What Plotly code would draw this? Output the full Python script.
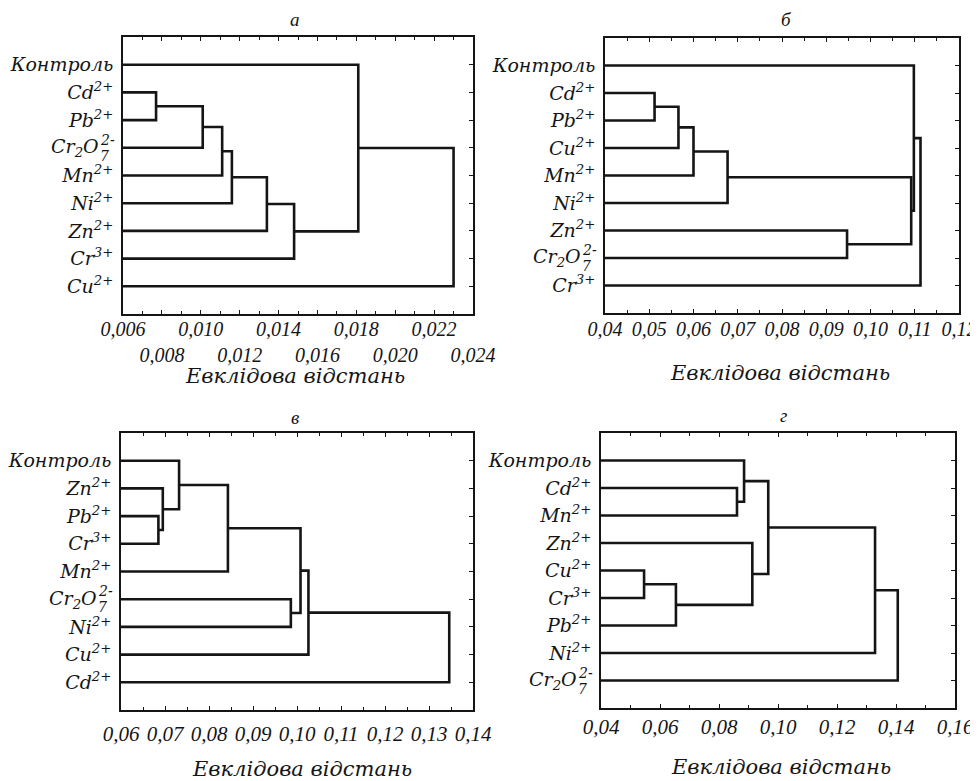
import plotly.graph_objects as go

# page geometry: the browser body adds an 8px margin, so the figure is 8px smaller
PAGE_W, PAGE_H = 978, 781
OFF = 8
W, H = PAGE_W - OFF, PAGE_H - OFF

# ---------------- data ----------------
panel_titles = ["а", "б", "в", "г"]
axis_title = "Евклідова відстань"

leaves_a = ["Контроль", "Cd2+", "Pb2+", "Cr2O7", "Mn2+", "Ni2+", "Zn2+", "Cr3+", "Cu2+"]
merges_a = [(1, 2, 0.0077), (9, 3, 0.0101), (10, 4, 0.0111), (11, 5, 0.0116),
            (12, 6, 0.0134), (13, 7, 0.0148), (0, 14, 0.0181), (15, 8, 0.0230)]

leaves_b = ["Контроль", "Cd2+", "Pb2+", "Cu2+", "Mn2+", "Ni2+", "Zn2+", "Cr2O7", "Cr3+"]
merges_b = [(1, 2, 0.0512), (9, 3, 0.0566), (10, 4, 0.0600), (11, 5, 0.0677),
            (6, 7, 0.0947), (12, 13, 0.1092), (0, 14, 0.1098), (15, 8, 0.1113)]

leaves_c = ["Контроль", "Zn2+", "Pb2+", "Cr3+", "Mn2+", "Cr2O7", "Ni2+", "Cu2+", "Cd2+"]
merges_c = [(2, 3, 0.0685), (1, 9, 0.0695), (0, 10, 0.0732), (11, 4, 0.0843),
            (5, 6, 0.0986), (12, 13, 0.1008), (14, 7, 0.1026), (15, 8, 0.1346)]

leaves_d = ["Контроль", "Cd2+", "Mn2+", "Zn2+", "Cu2+", "Cr3+", "Pb2+", "Ni2+", "Cr2O7"]
merges_d = [(1, 2, 0.0861), (0, 9, 0.0885), (4, 5, 0.0546), (11, 6, 0.0654),
            (3, 12, 0.0913), (10, 13, 0.0967), (14, 7, 0.1329), (15, 8, 0.1406)]

ticks_a = [0.006, 0.008, 0.010, 0.012, 0.014, 0.016, 0.018, 0.020, 0.022, 0.024]
ticklabels_a = ["0,006", "0,008", "0,010", "0,012", "0,014", "0,016", "0,018", "0,020", "0,022", "0,024"]
ticks_b = [0.04, 0.05, 0.06, 0.07, 0.08, 0.09, 0.10, 0.11, 0.12]
ticklabels_b = ["0,04", "0,05", "0,06", "0,07", "0,08", "0,09", "0,10", "0,11", "0,12"]
ticks_c = [0.06, 0.07, 0.08, 0.09, 0.10, 0.11, 0.12, 0.13, 0.14]
ticklabels_c = ["0,06", "0,07", "0,08", "0,09", "0,10", "0,11", "0,12", "0,13", "0,14"]
ticks_d = [0.04, 0.06, 0.08, 0.10, 0.12, 0.14, 0.16]
ticklabels_d = ["0,04", "0,06", "0,08", "0,10", "0,12", "0,14", "0,16"]

label_html = {
    "Контроль": "Контроль",
    "Cd2+": "Cd<sup>2+</sup>",
    "Pb2+": "Pb<sup>2+</sup>",
    "Cu2+": "Cu<sup>2+</sup>",
    "Mn2+": "Mn<sup>2+</sup>",
    "Ni2+": "Ni<sup>2+</sup>",
    "Zn2+": "Zn<sup>2+</sup>",
    "Cr3+": "Cr<sup>3+</sup>",
    "Cr2O7": "",   # drawn as stacked annotation
}

# ---------------- layout geometry (page pixels) ----------------
boxes = [(123, 473, 37, 314), (605, 959, 38, 313), (121, 473, 433, 710), (601, 955, 433, 708)]
ranges = [(0.006, 0.024), (0.04, 0.12), (0.06, 0.14), (0.04, 0.16)]
minor_dt = [0.001, 0.005, 0.005, 0.01]
title_pos = [(295, 20), (786, 20), (295, 418), (783, 415)]
xtitle_pos = [(295, 376), (780, 373), (302, 769), (781, 767)]
tick_standoff = [-4, -3, 4, -1]
tick_size = [20, 20, 21, 21]


def px(x):
    return (x - OFF) / W


def py(y):
    return 1 - (y - OFF) / H


panels = [
    (leaves_a, merges_a, ticks_a, ticklabels_a),
    (leaves_b, merges_b, ticks_b, ticklabels_b),
    (leaves_c, merges_c, ticks_c, ticklabels_c),
    (leaves_d, merges_d, ticks_d, ticklabels_d),
]

INK = "#151515"
SERIF = "DejaVu Serif"
TSERIF = "Liberation Serif"


def dendro_xy(n, merges):
    pos = {i: i + 1 for i in range(n)}
    hgt = {i: 0.0 for i in range(n)}
    xs, ys = [], []
    for k, (a, b, h) in enumerate(merges):
        xs += [hgt[a], h, h, hgt[b], None]
        ys += [pos[a], pos[a], pos[b], pos[b], None]
        pos[n + k] = (pos[a] + pos[b]) / 2
        hgt[n + k] = h
    return xs, ys


fig = go.Figure()
annotations = []
layout = {}

for i, (leaves, merges, tv, tt) in enumerate(panels):
    n = i + 1
    sx = "" if n == 1 else str(n)
    x0, x1, y0, y1 = boxes[i]
    xs, ys = dendro_xy(len(leaves), merges)
    fig.add_trace(go.Scatter(x=xs, y=ys, mode="lines", xaxis="x" + sx, yaxis="y" + sx,
                             line=dict(color=INK, width=2.6), hoverinfo="skip",
                             showlegend=False))
    if i == 0:
        tt = [t if j % 2 == 0 else "<br>" + t for j, t in enumerate(tt)]
    layout["xaxis" + sx] = dict(
        domain=[px(x0), px(x1)], anchor="y" + sx, range=list(ranges[i]), automargin=False,
        tickvals=tv, ticktext=tt, tickangle=0,
        ticks="inside", ticklen=4, tickwidth=1, tickcolor=INK,
        minor=dict(ticks="inside", ticklen=3, dtick=minor_dt[i], tick0=ranges[i][0], tickcolor=INK),
        showline=True, linecolor=INK, linewidth=1.5, mirror="ticks",
        showgrid=False, zeroline=False,
        tickfont=dict(family=TSERIF, size=tick_size[i], color=INK, style="italic"),
        ticklabelstandoff=tick_standoff[i],
    )
    layout["yaxis" + sx] = dict(
        domain=[py(y1), py(y0)], anchor="x" + sx, range=[10, 0], automargin=False,
        tickvals=list(range(1, len(leaves) + 1)),
        ticktext=[label_html[l] for l in leaves],
        ticks="inside", ticklen=4, tickwidth=1, tickcolor=INK,
        showline=True, linecolor=INK, linewidth=1.5, mirror="ticks",
        showgrid=False, zeroline=False,
        tickfont=dict(family=SERIF, size=19, color=INK, style="italic"),
        ticklabelstandoff=4,
    )
    # stacked Cr2O7^2- label
    yi = leaves.index("Cr2O7") + 1
    annotations.append(dict(text="Cr<sub>2</sub>O", xref=("x" + sx) + " domain", yref="y" + sx,
                            x=0, y=yi, xanchor="right", yanchor="middle", xshift=-22, showarrow=False,
                            font=dict(family=SERIF, size=19, color=INK, style="italic")))
    annotations.append(dict(text="2-", xref=("x" + sx) + " domain", yref="y" + sx,
                            x=0, y=yi, xanchor="left", yanchor="middle", xshift=-25, yshift=8,
                            showarrow=False,
                            font=dict(family=SERIF, size=14, color=INK, style="italic")))
    annotations.append(dict(text="7", xref=("x" + sx) + " domain", yref="y" + sx,
                            x=0, y=yi, xanchor="left", yanchor="middle", xshift=-25, yshift=-8,
                            showarrow=False,
                            font=dict(family=SERIF, size=14, color=INK, style="italic")))
    # panel title
    tx, ty = title_pos[i]
    annotations.append(dict(text=panel_titles[i], xref="paper", yref="paper", x=px(tx), y=py(ty),
                            xanchor="center", yanchor="middle", showarrow=False,
                            font=dict(family=TSERIF, size=19, color=INK, style="italic")))
    # axis title
    ax, ay = xtitle_pos[i]
    annotations.append(dict(text=axis_title, xref="paper", yref="paper", x=px(ax), y=py(ay),
                            xanchor="center", yanchor="middle", showarrow=False,
                            font=dict(family=SERIF, size=21, color=INK, style="italic")))

fig.update_layout(
    width=W, height=H, margin=dict(l=0, r=0, t=0, b=0, autoexpand=False),
    paper_bgcolor="white", plot_bgcolor="white",
    annotations=annotations, **layout,
)

fig.write_html("out.html")
